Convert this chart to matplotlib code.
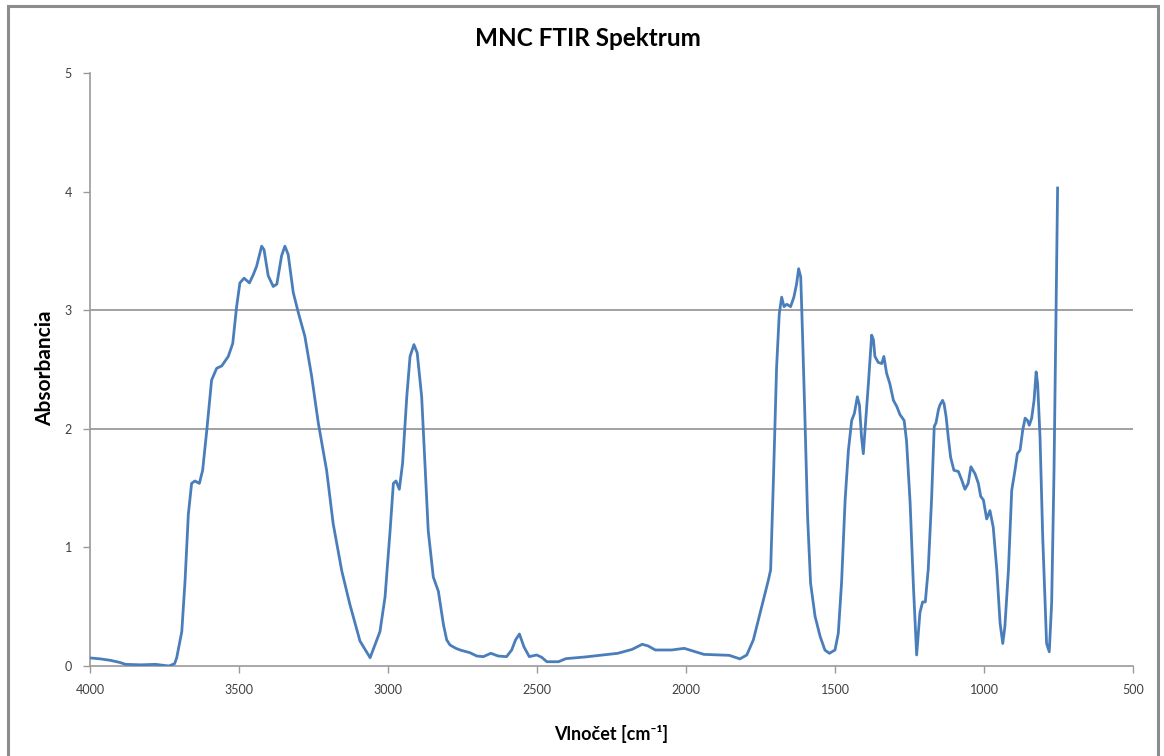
import matplotlib
matplotlib.use("Agg")
import matplotlib.pyplot as plt
from matplotlib.patches import Rectangle

# wavenumber [cm-1] and absorbance
wn = [4000, 3965, 3932, 3900, 3881, 3830, 3780, 3750, 3735, 3716, 3709, 3692, 3681, 3670,
      3659, 3648, 3633, 3622, 3608, 3592, 3575, 3558, 3536, 3521, 3508, 3497, 3483, 3465,
      3452, 3441, 3424, 3416, 3402, 3385, 3373, 3357, 3346, 3335, 3318, 3301, 3279, 3256,
      3234, 3206, 3184, 3155, 3128, 3094, 3060, 3027, 3010, 2993, 2982, 2973, 2962, 2951,
      2937, 2926, 2913, 2902, 2887, 2876, 2865, 2848, 2831, 2814, 2803, 2792, 2773, 2758,
      2725, 2702, 2680, 2655, 2630, 2602, 2585, 2572, 2559, 2544, 2526, 2501, 2484, 2467,
      2428, 2403, 2339, 2290, 2229, 2181, 2147, 2127, 2103, 2048, 2006, 1976, 1940, 1855,
      1819, 1796, 1774, 1757, 1740, 1724, 1716, 1707, 1696, 1687, 1679, 1671, 1662, 1649,
      1638, 1629, 1622, 1615, 1609, 1601, 1592, 1582, 1567, 1550, 1534, 1519, 1500, 1489,
      1478, 1466, 1455, 1444, 1435, 1425, 1418, 1411, 1405, 1396, 1388, 1377, 1371, 1366,
      1355, 1343, 1336, 1327, 1316, 1304, 1293, 1282, 1268, 1260, 1248, 1237, 1226, 1215,
      1206, 1197, 1187, 1176, 1167, 1161, 1153, 1148, 1139, 1134, 1127, 1120, 1112, 1101,
      1086, 1075, 1064, 1053, 1044, 1030, 1019, 1011, 1002, 991, 980, 969, 957, 946,
      937, 930, 918, 907, 896, 888, 879, 870, 862, 854, 848, 840, 832, 825,
      820, 812, 803, 795, 790, 781, 773, 765, 758, 753]
absorb = [0.068, 0.06, 0.048, 0.03, 0.014, 0.01, 0.014, 0.005, 0.0, 0.02, 0.07, 0.29, 0.72, 1.28,
          1.54, 1.56, 1.54, 1.65, 1.99, 2.41, 2.51, 2.53, 2.61, 2.72, 3.03, 3.23, 3.27, 3.23,
          3.30, 3.37, 3.54, 3.51, 3.29, 3.20, 3.22, 3.46, 3.54, 3.47, 3.15, 2.98, 2.78, 2.44,
          2.05, 1.65, 1.20, 0.80, 0.52, 0.21, 0.07, 0.29, 0.58, 1.14, 1.54, 1.56, 1.49, 1.71,
          2.27, 2.61, 2.71, 2.64, 2.27, 1.71, 1.14, 0.75, 0.63, 0.35, 0.22, 0.177, 0.15, 0.135,
          0.112, 0.084, 0.079, 0.107, 0.084, 0.079, 0.135, 0.22, 0.27, 0.163, 0.079, 0.093, 0.073, 0.036,
          0.036, 0.062, 0.076, 0.09, 0.107, 0.14, 0.183, 0.169, 0.135, 0.135, 0.149, 0.126, 0.098, 0.09,
          0.06, 0.093, 0.22, 0.39, 0.56, 0.72, 0.81, 1.54, 2.52, 2.97, 3.11, 3.03, 3.05, 3.03,
          3.11, 3.22, 3.35, 3.28, 2.80, 2.10, 1.26, 0.70, 0.42, 0.25, 0.135, 0.107, 0.135, 0.275,
          0.70, 1.40, 1.82, 2.07, 2.13, 2.27, 2.20, 1.93, 1.79, 2.10, 2.38, 2.79, 2.75, 2.61,
          2.56, 2.55, 2.61, 2.47, 2.38, 2.24, 2.19, 2.12, 2.07, 1.90, 1.38, 0.68, 0.093, 0.45,
          0.54, 0.54, 0.82, 1.40, 2.02, 2.05, 2.16, 2.20, 2.24, 2.21, 2.10, 1.93, 1.76, 1.65,
          1.64, 1.57, 1.49, 1.54, 1.68, 1.62, 1.54, 1.43, 1.40, 1.24, 1.31, 1.17, 0.81, 0.36,
          0.19, 0.33, 0.81, 1.48, 1.65, 1.79, 1.82, 1.99, 2.09, 2.07, 2.03, 2.09, 2.24, 2.48,
          2.38, 1.93, 1.09, 0.53, 0.19, 0.12, 0.53, 1.65, 3.06, 4.03]

x_ticks = [4000, 3500, 3000, 2500, 2000, 1500, 1000, 500]
y_ticks = [0, 1, 2, 3, 4, 5]
grid_levels = [2, 3]

plt.rcParams['font.family'] = ['Lato', 'DejaVu Sans']

fig = plt.figure(figsize=(11.64, 7.56), dpi=100)
ax = fig.add_axes([90 / 1164, 90 / 756, 1043 / 1164, 593 / 756])

# chart area border
fig.patches.append(Rectangle((8 / 1164, -0.05), 1150 / 1164, 1.05 - 6 / 756,
                             transform=fig.transFigure, fill=False,
                             edgecolor='#8c8c8c', linewidth=2.2))

for g in grid_levels:
    ax.axhline(g, color='#9a9a9a', linewidth=1.3, zorder=1)

ax.plot(wn, absorb, color='#4a7ebb', linewidth=2.0, zorder=3)

ax.set_xlim(4000, 500)
ax.set_ylim(0, 5)
ax.set_xticks(x_ticks)
ax.set_yticks(y_ticks)
ax.tick_params(axis='both', direction='out', length=5, width=1, color='#9a9a9a',
               labelsize=9, labelcolor='#404040')
ax.tick_params(axis='x', pad=8)
ax.tick_params(axis='y', pad=8)

for s in ['top', 'right']:
    ax.spines[s].set_visible(False)
for s in ['left', 'bottom']:
    ax.spines[s].set_color('#9a9a9a')
    ax.spines[s].set_linewidth(1.2)

fig.text(588 / 1164, 1 - 38 / 756, 'MNC FTIR Spektrum', ha='center', va='center',
         fontsize=17.5, fontweight='bold')
fig.text(611 / 1164, 1 - 734 / 756, 'Vlnočet [cm⁻¹]', ha='center', va='center',
         fontsize=13, fontweight='bold')
fig.text(45 / 1164, 1 - 368 / 756, 'Absorbancia', ha='center', va='center',
         rotation=90, fontsize=15, fontweight='bold')

fig.savefig('out.png', dpi=100)
